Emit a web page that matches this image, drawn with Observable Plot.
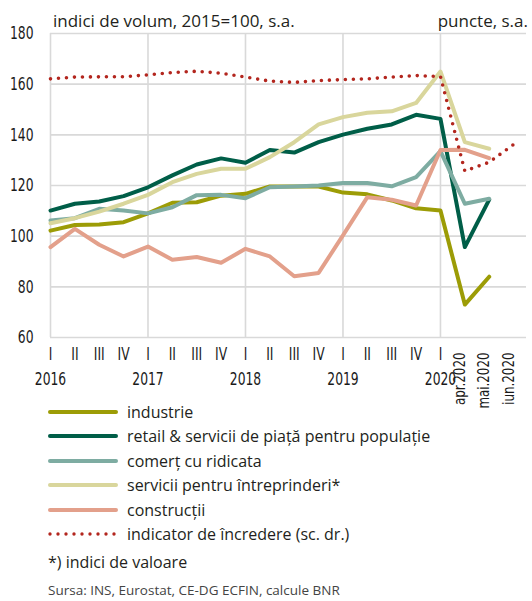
<!DOCTYPE html>
<html><head><meta charset="utf-8">
<script src="https://cdn.jsdelivr.net/npm/d3@7"></script>
<script src="https://cdn.jsdelivr.net/npm/@observablehq/plot@0.6"></script>
<style>
body{margin:0;background:#fff;}
#wrap{position:relative;width:532px;height:601px;font-family:"Open Sans",sans-serif;color:#231f20;overflow:hidden;}
.t{position:absolute;white-space:nowrap;line-height:1;}
#chart{position:absolute;left:0;top:0;}
.row{position:absolute;left:48px;height:24px;display:flex;align-items:center;font-size:16px;white-space:nowrap;}
.row svg{margin-right:9px;flex:none;}
</style></head><body><div id="wrap"><div id="chart"></div></div>
<script>
const quarterLabels = ["I","II","III","IV","I","II","III","IV","I","II","III","IV","I","II","III","IV","I"];
const yearLabels = ["2016","2017","2018","2019","2020"];
const monthLabels = ["apr.2020","mai.2020","iun.2020"];
const yTicks = [60,80,100,120,140,160,180];

const seriesNames = ["industrie","retail & servicii de piață pentru populație","comerț cu ridicata","servicii pentru întreprinderi*","construcții","indicator de încredere (sc. dr.)"];
const seriesColors = ["#9c9c06","#005e48","#7eaca2","#d9d69c","#e3a08b","#b3261e"];

const industrie   = [102.2,104.4,104.6,105.5,109.0,113.2,113.4,116.0,116.7,119.6,119.6,119.6,117.2,116.5,114.1,111.0,110.1,73.0,84.0];
const retail      = [110.1,112.8,113.7,115.8,119.3,124.0,128.3,130.7,129.0,134.0,133.0,137.1,140.1,142.4,144.1,147.9,146.3,95.7,114.4];
const comert      = [106.2,107.1,110.8,110.1,109.0,111.4,116.2,116.3,115.0,119.3,119.6,120.0,121.0,121.0,119.7,123.3,133.6,112.8,114.8];
const servicii    = [105.1,107.1,109.7,112.8,116.3,121.3,124.6,126.6,126.6,131.2,137.1,144.1,147.0,148.7,149.3,152.6,165.0,137.1,134.5];
const constructii = [95.7,102.9,96.6,92.0,95.9,90.7,91.8,89.5,95.0,92.0,84.2,85.5,100.3,115.4,114.4,112.1,134.0,134.1,130.8];
const incredere   = [162.1,162.8,162.9,162.9,163.7,164.6,165.1,164.3,162.8,161.2,160.7,161.4,161.8,162.1,162.8,163.4,163.0,125.7,129.2,136.2];

const allSeries = [industrie, retail, comert, servicii, constructii, incredere];
const rows = (arr, k) => arr.map((v, i) => ({i, v, k}));

const tickFont = '"DejaVu Sans Condensed","DejaVu Sans",sans-serif';
const yearStarts = [0,4,8,12,16];
const tickStyle = {fontSize:18, fontFamily:tickFont, fill:"#1a1a1a", className:"tick"};

const marks = [
  Plot.ruleY(yTicks, {stroke:"#d9d9d9", strokeWidth:1.6}),
  Plot.ruleX(yearStarts, {y1:60, y2:180, stroke:"#d9d9d9", strokeWidth:1.6}),
  Plot.text(yTicks, {y:d=>d, text:d=>String(d), frameAnchor:"left", dx:-17, textAnchor:"end", ...tickStyle}),
  Plot.text(quarterLabels, {x:(d,i)=>i, text:d=>d, frameAnchor:"bottom", dy:22, ...tickStyle}),
  Plot.text(yearLabels, {x:(d,i)=>yearStarts[i], text:d=>d, frameAnchor:"bottom", dy:47, ...tickStyle}),
  Plot.text(monthLabels, {x:(d,i)=>17+i, text:d=>d, frameAnchor:"bottom", dy:15, rotate:-90, textAnchor:"end", ...tickStyle, fontSize:16.5, className:"mtick"})
];
allSeries.forEach((arr, k) => {
  if (k === 5) {
    marks.push(Plot.line(rows(arr,k), {x:"i", y:"v", stroke:seriesColors[k], strokeWidth:3.6, strokeDasharray:"0 8", strokeLinecap:"round"}));
  } else {
    marks.push(Plot.line(rows(arr,k), {x:"i", y:"v", stroke:seriesColors[k], strokeWidth:4}));
  }
});

const chart = Plot.plot({
  width:532, height:410,
  marginTop:33, marginBottom:73, marginLeft:50, marginRight:6,
  x:{type:"linear", domain:[0,19.53], axis:null},
  y:{domain:[60,180], axis:null},
  style:{overflow:"visible", background:"transparent"},
  marks
});
document.getElementById("chart").appendChild(chart);
// condense tick label glyphs horizontally (narrow font look)
function condense(sel, f){
  d3.select(chart).selectAll(sel).each(function(){
    const w = this.getComputedTextLength();
    this.setAttribute("textLength", (w*f).toFixed(1));
    this.setAttribute("lengthAdjust", "spacingAndGlyphs");
  });
}
condense("g.tick text", 0.76);
condense("g.mtick text", 0.8);

const wrap = document.getElementById("wrap");
function addText(txt, css){
  const d = document.createElement("div");
  d.className = "t"; d.textContent = txt; Object.assign(d.style, css); wrap.appendChild(d);
}
addText("indici de volum, 2015=100, s.a.", {left:"53px", top:"12px", fontSize:"17px"});
addText("puncte, s.a.", {right:"4px", top:"12px", fontSize:"17px"});

seriesNames.forEach((name, k) => {
  const r = document.createElement("div");
  r.className = "row";
  r.style.top = (400 + 24.4*k) + "px";
  const dotted = k === 5;
  r.innerHTML = `<svg width="70" height="8"><line x1="2" y1="4" x2="68" y2="4" stroke="${seriesColors[k]}" stroke-width="${dotted?3.4:4}" ${dotted?'stroke-dasharray="0 8" stroke-linecap="round"':'stroke-linecap="round"'}/></svg>`;
  const s = document.createElement("span"); s.textContent = name; r.appendChild(s);
  wrap.appendChild(r);
});
addText("*) indici de valoare", {left:"48px", top:"554px", fontSize:"16px"});
addText("Sursa: INS, Eurostat, CE-DG ECFIN, calcule BNR", {left:"48px", top:"584px", fontSize:"13.5px", color:"#444"});
</script></body></html>
